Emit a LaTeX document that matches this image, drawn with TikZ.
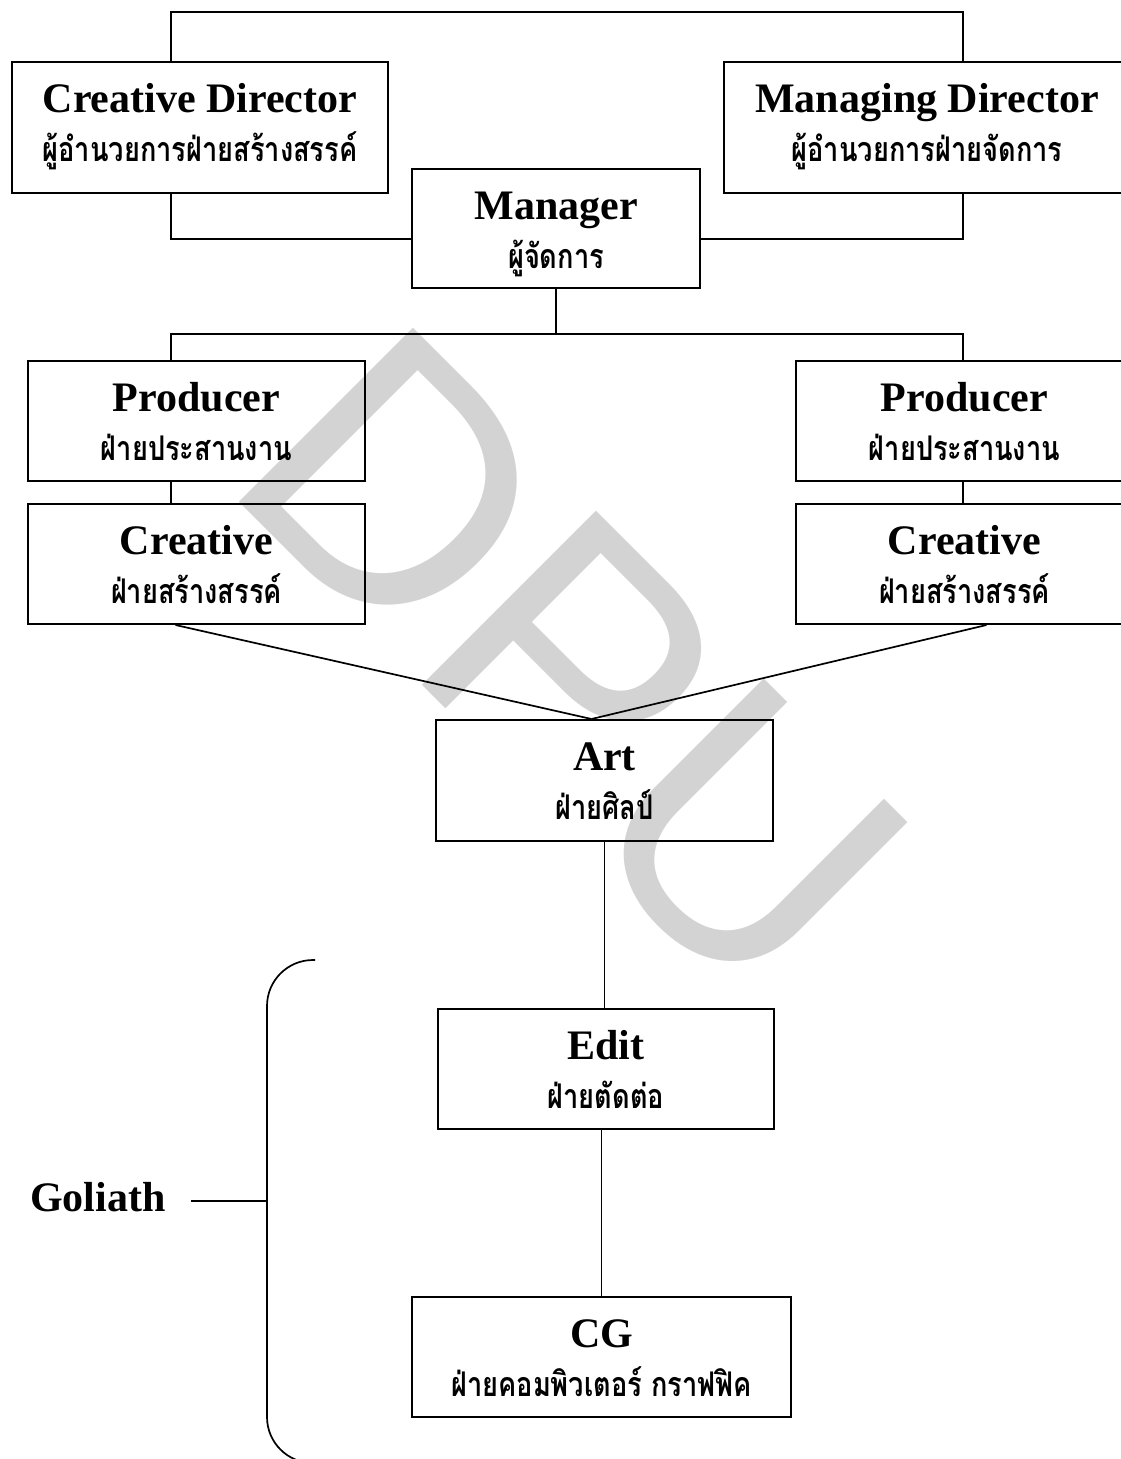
\documentclass[tikz,border=0pt]{standalone}
\usepackage{fontspec}
\setmainfont{Liberation Serif}
\newfontfamily\thai[Script=Thai,FakeStretch=0.8]{Loma}
\newfontfamily\wmfont{Liberation Sans}
\usetikzlibrary{calc}
\definecolor{wmgray}{RGB}{211,211,211}

\tikzset{
  box/.style={draw, line width=2pt, rectangle, inner sep=0pt, anchor=north west},
  title/.style={font=\fontsize{42}{48}\selectfont\bfseries, inner sep=0pt, anchor=base},
  sub/.style={font=\thai\bfseries\fontsize{34}{40}\selectfont, inner sep=0pt, anchor=base},
  link/.style={line width=1.7pt},
}

\begin{document}
\begin{tikzpicture}[x=1pt, y=-1pt]
\useasboundingbox (0,0) rectangle (1121,1459);
\clip (0,0) rectangle (1121,1459);

% watermark
\node[font=\wmfont\fontsize{358}{400}\selectfont, text=wmgray, rotate=-45,
      inner sep=0pt, anchor=center] (wm) at (572,663) {DPU};

% boxes
\node[box, minimum width=376pt, minimum height=131pt] (cd)    at (11,61) {};
\node[box, minimum width=406pt, minimum height=131pt] (md)    at (723,61) {};
\node[box, minimum width=288pt, minimum height=119pt] (mgr)   at (411,168) {};
\node[box, minimum width=337pt, minimum height=120pt] (prodL) at (27,360) {};
\node[box, minimum width=337pt, minimum height=120pt] (prodR) at (795,360) {};
\node[box, minimum width=337pt, minimum height=120pt] (creL)  at (27,503) {};
\node[box, minimum width=337pt, minimum height=120pt] (creR)  at (795,503) {};
\node[box, minimum width=337pt, minimum height=121pt] (art)   at (435,719) {};
\node[box, minimum width=336pt, minimum height=120pt] (edit)  at (437,1008) {};
\node[box, minimum width=379pt, minimum height=120pt] (cg)    at (411,1296) {};

% labels
\foreach \b/\t/\s in {
  cd/Creative Director/ผู้อำนวยการฝ่ายสร้างสรรค์,
  md/Managing Director/ผู้อำนวยการฝ่ายจัดการ,
  mgr/Manager/ผู้จัดการ,
  prodL/Producer/ฝ่ายประสานงาน,
  prodR/Producer/ฝ่ายประสานงาน,
  creL/Creative/ฝ่ายสร้างสรรค์,
  creR/Creative/ฝ่ายสร้างสรรค์,
  art/Art/ฝ่ายศิลป์,
  edit/Edit/ฝ่ายตัดต่อ,
  cg/CG/ฝ่ายคอมพิวเตอร์ กราฟฟิค}{
  \node[title] (\b T) at ($(\b.north)+(0,51)$) {\t};
  \node[sub]   (\b S) at ($(\b.north)+(0,100)$) {\s};
}

% connector junctions
\coordinate (topL) at (171,12);
\coordinate (topR) at (963,12);
\coordinate (midL) at (171,239);
\coordinate (midR) at (963,239);
\coordinate (busL) at (171,334);
\coordinate (busR) at (963,334);
\coordinate (apex) at ($(art.north)+(-13,0)$);

% directors and manager
\draw[link] (cd.north -| topL) -- (topL) -- (topR) -- (md.north -| topR);
\draw[link] (cd.south -| midL) -- (midL) -- (midL -| mgr.west);
\draw[link] (md.south -| midR) -- (midR) -- (midR -| mgr.east);

% manager to producers
\draw[link] (mgr.south) -- (mgr.south |- busL);
\draw[link] (prodL.north -| busL) -- (busL) -- (busR) -- (prodR.north -| busR);
\draw[link] (prodL.south -| busL) -- (creL.north -| busL);
\draw[link] (prodR.south -| busR) -- (creR.north -| busR);

% creative teams to art
\draw[link] ($(creL.south)+(-21,0)$) -- (apex);
\draw[link] ($(creR.south)+(22,0)$) -- (apex);

% production chain
\draw[link] (art.south) -- (art.south |- edit.north);
\draw[link] (cg.north) -- (cg.north |- edit.south);

% Goliath group bracket
\coordinate (brTop) at (315,960);
\coordinate (brBot) at (315,1463);
\coordinate (brMid) at (267,1201);
\draw[link, rounded corners=46pt] (brTop) -- (267,960) -- (267,1463) -- (brBot);
\node[font=\fontsize{42}{48}\selectfont\bfseries, inner sep=0pt, anchor=base west] (gol) at (30,1211) {Goliath};
\coordinate (golEnd) at (191,1201);
\draw[link] (golEnd) -- (brMid);
\end{tikzpicture}
\end{document}
